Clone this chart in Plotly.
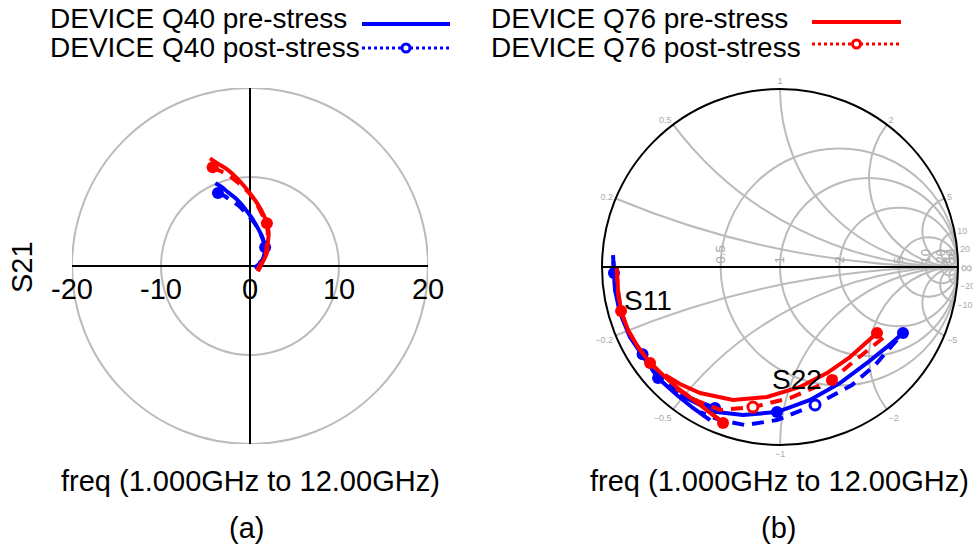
import plotly.graph_objects as go
import numpy as np

W, H = 973, 555
FONT = "Liberation Sans"
BLUE = "#0000FF"
RED = "#FF0000"

# ---------------- Panel (a): S21 (real, imag) ----------------
s21_q40_pre_re = [-3.9, -3.2, -2.5, -1.5, -0.6, 0.2, 0.8, 1.4, 1.7, 1.7, 1.5, 1.0, 0.5]
s21_q40_pre_im = [9.3, 8.9, 8.3, 7.5, 6.5, 5.4, 4.4, 3.2, 2.1, 1.3, 0.7, 0.2, -0.2]
s21_q40_post_re = [-3.6, -2.9, -2.2, -1.3, -0.5, 0.3, 0.9, 1.4, 1.7, 1.6, 1.4, 0.9, 0.4]
s21_q40_post_im = [8.2, 7.9, 7.4, 6.8, 6.0, 5.1, 4.2, 3.1, 2.1, 1.3, 0.7, 0.2, -0.2]
s21_q76_pre_re = [-4.5, -3.6, -2.5, -1.5, -0.6, 0.2, 0.9, 1.5, 1.9, 2.1, 2.0, 1.9, 1.5, 0.9]
s21_q76_pre_im = [12.1, 11.5, 10.8, 9.9, 8.9, 7.9, 6.9, 5.8, 4.8, 3.7, 2.6, 1.5, 0.6, -0.6]
s21_q76_post_re = [-4.2, -3.4, -2.4, -1.4, -0.5, 0.3, 0.9, 1.4, 1.8, 2.0, 1.9, 1.8, 1.4, 0.8]
s21_q76_post_im = [11.1, 10.7, 10.2, 9.4, 8.6, 7.7, 6.7, 5.7, 4.8, 3.7, 2.6, 1.5, 0.6, -0.5]

polar_ticks = [-20, -10, 0, 10, 20]
polar_tick_text = ["-20", "-10", "0", "10", "20"]
polar_rings = [10, 20]

# ---------------- Panel (b): S11 / S22 reflection coefficients (gamma re, im) ----------------
s11_q76_pre_gr = [-0.320, -0.449, -0.562, -0.657, -0.730, -0.798, -0.854, -0.893, -0.910, -0.916]
s11_q76_pre_gi = [-0.876, -0.775, -0.691, -0.607, -0.539, -0.449, -0.354, -0.247, -0.129, -0.006]
s11_q76_post_gr = [-0.335, -0.458, -0.570, -0.662, -0.733, -0.800, -0.856, -0.895, -0.912, -0.918]
s11_q76_post_gi = [-0.862, -0.765, -0.684, -0.602, -0.535, -0.446, -0.352, -0.245, -0.128, -0.010]
s11_q40_pre_gr = [-0.393, -0.489, -0.579, -0.685, -0.775, -0.843, -0.899, -0.927, -0.933, -0.938]
s11_q40_pre_gi = [-0.860, -0.792, -0.719, -0.624, -0.494, -0.393, -0.258, -0.129, -0.034, 0.067]
s11_q40_post_gr = [-0.365, -0.478, -0.575, -0.680, -0.772, -0.840, -0.897, -0.925, -0.932, -0.937]
s11_q40_post_gi = [-0.792, -0.747, -0.700, -0.615, -0.490, -0.390, -0.256, -0.128, -0.034, 0.060]

s22_q76_pre_gr = [0.545, 0.393, 0.264, 0.112, -0.073, -0.264, -0.449, -0.562, -0.646]
s22_q76_pre_gi = [-0.371, -0.506, -0.596, -0.674, -0.730, -0.747, -0.708, -0.657, -0.607]
s22_q76_post_gr = [0.579, 0.410, 0.292, 0.056, -0.152, -0.337, -0.478, -0.618]
s22_q76_post_gi = [-0.399, -0.534, -0.635, -0.736, -0.787, -0.803, -0.747, -0.663]
s22_q40_pre_gr = [0.691, 0.601, 0.489, 0.337, 0.169, -0.017, -0.208, -0.354, -0.449, -0.562]
s22_q40_pre_gi = [-0.371, -0.449, -0.539, -0.652, -0.747, -0.815, -0.831, -0.815, -0.775, -0.719]
s22_q40_post_gr = [0.657, 0.534, 0.404, 0.197, -0.017, -0.197, -0.337, -0.449]
s22_q40_post_gi = [-0.410, -0.551, -0.663, -0.775, -0.860, -0.888, -0.860, -0.815]

smith_real_ticks = [0.5, 1, 2, 5, 10, 20, 50]
smith_imag_ticks = [-20, -10, -5, -2, -1, -0.5, -0.2, 0.2, 0.5, 1, 2, 5, 10, 20]

legend_labels = ["DEVICE Q40 pre-stress", "DEVICE Q40 post-stress",
                 "DEVICE Q76 pre-stress", "DEVICE Q76 post-stress"]


def to_z(gr, gi):
    g = np.array(gr) + 1j * np.array(gi)
    z = (1 + g) / (1 - g)
    return z.real, z.imag


fig = go.Figure()

# ---- panel (a) traces ----
def add_s21(re, im, color, dash, mk_idx):
    fig.add_trace(go.Scatter(x=re, y=im, mode="lines", line=dict(color=color, width=4, dash=dash, shape="spline"),
                             showlegend=False, xaxis="x", yaxis="y"))
    if mk_idx:
        fig.add_trace(go.Scatter(x=[re[i] for i in mk_idx], y=[im[i] for i in mk_idx], mode="markers",
                                 marker=dict(color=color, size=12), showlegend=False, xaxis="x", yaxis="y"))

add_s21(s21_q40_pre_re, s21_q40_pre_im, BLUE, "solid", [8])
add_s21(s21_q40_post_re, s21_q40_post_im, BLUE, "12px,8px", [0])
add_s21(s21_q76_pre_re, s21_q76_pre_im, RED, "solid", [8])
add_s21(s21_q76_post_re, s21_q76_post_im, RED, "12px,8px", [0])

# ---- panel (b) traces ----
def add_smith(gr, gi, color, dash, fill_idx=(), open_idx=()):
    r, x = to_z(gr, gi)
    fig.add_trace(go.Scattersmith(real=r, imag=x, mode="lines", line=dict(color=color, width=4, dash=dash),
                                  showlegend=False, subplot="smith"))
    if fill_idx:
        fig.add_trace(go.Scattersmith(real=[r[i] for i in fill_idx], imag=[x[i] for i in fill_idx], mode="markers",
                                      marker=dict(color=color, size=12), showlegend=False, subplot="smith"))
    if open_idx:
        fig.add_trace(go.Scattersmith(real=[r[i] for i in open_idx], imag=[x[i] for i in open_idx], mode="markers",
                                      marker=dict(color="white", size=10, line=dict(color=color, width=3)),
                                      showlegend=False, subplot="smith"))

add_smith(s11_q40_pre_gr, s11_q40_pre_gi, BLUE, "solid", [3, 8])
add_smith(s11_q40_post_gr, s11_q40_post_gi, BLUE, "12px,8px", [0, 4])
add_smith(s22_q40_pre_gr, s22_q40_pre_gi, BLUE, "solid", [0, 5])
add_smith(s22_q40_post_gr, s22_q40_post_gi, BLUE, "12px,8px", [], [3])
add_smith(s11_q76_pre_gr, s11_q76_pre_gi, RED, "solid", [0, 4, 7])
add_smith(s11_q76_post_gr, s11_q76_post_gi, RED, "12px,8px")
add_smith(s22_q76_pre_gr, s22_q76_pre_gi, RED, "solid", [0])
add_smith(s22_q76_post_gr, s22_q76_post_gi, RED, "12px,8px", [2], [4])

# ---------------- layout ----------------
def px_x(p):
    return p / W

def px_y(p):
    return 1 - p / H

shapes = []
for rr in polar_rings:
    shapes.append(dict(type="circle", xref="x", yref="y", x0=-rr, x1=rr, y0=-rr, y1=rr,
                       line=dict(color="#BBBBBB", width=2), layer="below"))

# legend keys (paper coordinates)
legend_rows = [
    (48, 19, 362, 450, 24, BLUE, "solid", False),
    (48, 47, 362, 450, 48, BLUE, "dot", True),
    (489, 19, 812, 901, 22, RED, "solid", False),
    (489, 47, 812, 901, 44, RED, "dot", True),
]
annotations = []
for (tx, ty, lx0, lx1, ly, col, dsh, mk), lab in zip(legend_rows, legend_labels):
    annotations.append(dict(text=lab, x=px_x(tx), y=px_y(ty), xref="paper", yref="paper",
                            xanchor="left", yanchor="middle", showarrow=False,
                            font=dict(size=28, color="black", family=FONT)))
    shapes.append(dict(type="line", xref="paper", yref="paper", x0=px_x(lx0), x1=px_x(lx1),
                       y0=px_y(ly), y1=px_y(ly), line=dict(color=col, width=4 if dsh == "solid" else 3, dash=dsh)))
    if mk:
        cx = (lx0 + lx1) / 2
        shapes.append(dict(type="circle", xref="paper", yref="paper", x0=px_x(cx - 4), x1=px_x(cx + 4),
                           y0=px_y(ly + 4), y1=px_y(ly - 4), fillcolor="white", line=dict(color=col, width=3)))

for txt, x, y, size, ang in [("freq (1.000GHz to 12.00GHz)", 250, 481, 29, 0),
                             ("freq (1.000GHz to 12.00GHz)", 779, 481, 29, 0),
                             ("(a)", 246, 528, 29, 0), ("(b)", 778, 528, 29, 0),
                             ("S11", 648, 300, 28, 0), ("S22", 797, 379, 28, 0),
                             ("S21", 22, 267, 29, -90)]:
    annotations.append(dict(text=txt, x=px_x(x), y=px_y(y), xref="paper", yref="paper",
                            xanchor="center", yanchor="middle", showarrow=False, textangle=ang,
                            font=dict(size=size, color="black", family=FONT)))

fig.update_layout(
    width=W, height=H, margin=dict(l=0, r=0, t=0, b=0, autoexpand=False),
    paper_bgcolor="white", plot_bgcolor="white",
    font=dict(family=FONT, color="black"),
    showlegend=False,
    xaxis=dict(domain=[px_x(72), px_x(428)], range=[-20, 20], tickvals=polar_ticks, ticktext=polar_tick_text,
               showgrid=False, zeroline=True, zerolinecolor="black", zerolinewidth=2,
               showline=False, anchor="free", position=px_y(266), ticks="", automargin=False,
               ticklabelstandoff=3, tickfont=dict(size=29, family=FONT), fixedrange=True),
    yaxis=dict(domain=[px_y(444), px_y(88)], range=[-20, 20], scaleanchor="x", scaleratio=1,
               showgrid=False, zeroline=True, zerolinecolor="black", zerolinewidth=2,
               showticklabels=False, ticks="", showline=False, automargin=False, fixedrange=True),
    smith=dict(
        domain=dict(x=[px_x(602), px_x(958)], y=[px_y(445), px_y(89)]),
        bgcolor="white",
        realaxis=dict(tickvals=smith_real_ticks, gridcolor="#BBBBBB", gridwidth=2,
                      linecolor="black", linewidth=2, ticks="", tickangle=-90,
                      tickfont=dict(size=13, color="#AAAAAA", family=FONT)),
        imaginaryaxis=dict(tickvals=smith_imag_ticks, gridcolor="#BBBBBB", gridwidth=2,
                           linecolor="black", linewidth=2, ticks="",
                           tickfont=dict(size=9, color="#AAAAAA", family=FONT)),
    ),
    shapes=shapes,
    annotations=annotations,
)

fig.write_html("out.html", config={"displayModeBar": False},
               post_script="document.body.style.margin='0px';document.body.style.overflow='hidden';")
